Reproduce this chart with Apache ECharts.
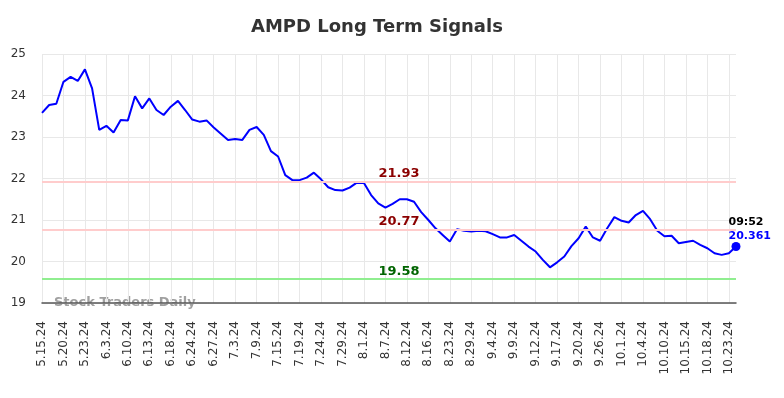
<!DOCTYPE html>
<html>
<head>
<meta charset="utf-8">
<title>AMPD Long Term Signals</title>
<script src="https://cdn.jsdelivr.net/npm/echarts@6/dist/echarts.min.js"></script>
<style>
  html, body { margin: 0; padding: 0; background: #fff; }
  #chart { width: 784px; height: 398px; }
</style>
</head>
<body>
<div id="chart"></div>
<script>
// trading days shown on the x axis (every third one gets a label)
const dates = [
  '5.15.24', '5.16.24', '5.17.24', '5.20.24', '5.21.24', '5.22.24', '5.23.24', '5.24.24', '5.28.24',
  '6.3.24', '6.4.24', '6.6.24', '6.10.24', '6.11.24', '6.12.24', '6.13.24', '6.14.24', '6.17.24',
  '6.18.24', '6.20.24', '6.21.24', '6.24.24', '6.25.24', '6.26.24', '6.27.24', '6.28.24', '7.1.24',
  '7.3.24', '7.5.24', '7.8.24', '7.9.24', '7.10.24', '7.12.24', '7.15.24', '7.16.24', '7.17.24',
  '7.19.24', '7.22.24', '7.23.24', '7.24.24', '7.25.24', '7.26.24', '7.29.24', '7.30.24', '7.31.24',
  '8.1.24', '8.2.24', '8.6.24', '8.7.24', '8.8.24', '8.9.24', '8.12.24', '8.13.24', '8.15.24',
  '8.16.24', '8.19.24', '8.21.24', '8.23.24', '8.26.24', '8.28.24', '8.29.24', '8.30.24', '9.3.24',
  '9.4.24', '9.5.24', '9.6.24', '9.9.24', '9.10.24', '9.11.24', '9.12.24', '9.13.24', '9.16.24',
  '9.17.24', '9.18.24', '9.19.24', '9.20.24', '9.23.24', '9.25.24', '9.26.24', '9.27.24', '9.30.24',
  '10.1.24', '10.2.24', '10.3.24', '10.4.24', '10.7.24', '10.9.24', '10.10.24', '10.11.24', '10.14.24',
  '10.15.24', '10.16.24', '10.17.24', '10.18.24', '10.21.24', '10.22.24', '10.23.24', '10.24.24'
]
const prices = [
  23.58, 23.77, 23.80, 24.33, 24.45, 24.35, 24.63, 24.17, 23.17,
  23.27, 23.11, 23.41, 23.40, 23.98, 23.69, 23.93, 23.65, 23.53,
  23.73, 23.87, 23.65, 23.42, 23.37, 23.40, 23.23, 23.08, 22.93,
  22.95, 22.93, 23.17, 23.24, 23.05, 22.66, 22.53, 22.08, 21.96,
  21.96, 22.02, 22.14, 21.98, 21.79, 21.72, 21.71, 21.78, 21.90,
  21.89, 21.60, 21.40, 21.30, 21.39, 21.50, 21.50, 21.44, 21.19,
  21.00, 20.80, 20.64, 20.48, 20.78, 20.74, 20.72, 20.74, 20.73,
  20.66, 20.58, 20.58, 20.64, 20.50, 20.36, 20.24, 20.04, 19.86,
  19.98, 20.12, 20.37, 20.56, 20.84, 20.58, 20.50, 20.80, 21.07,
  20.98, 20.94, 21.12, 21.22, 21.02, 20.74, 20.61, 20.62, 20.44,
  20.47, 20.50, 20.40, 20.32, 20.20, 20.16, 20.20, 20.361
]
const signalLevels = [21.93, 20.77, 19.58]
const signalColors = ['#ffcccc', '#ffcccc', '#90ee90']
const signalLabelColors = ['#8b0000', '#8b0000', '#006400']
const yTicks = [19, 25, 1]
const lastTime = '09:52'

const font = 'DejaVu Sans'
const myChart = echarts.init(document.getElementById('chart'))

const lastIdx = prices.length - 1
const seriesData = prices.map((v, i) => {
  if (i !== lastIdx) return v
  return {
    value: v,
    symbol: 'circle',
    symbolSize: 9,
    label: {
      show: true,
      position: [-3, -27],
      align: 'left',
      verticalAlign: 'top',
      formatter: '{t|' + lastTime + '}\n{v|' + v + '}',
      rich: {
        t: { color: '#000', fontWeight: 'bold', fontSize: 11, fontFamily: font, lineHeight: 14 },
        v: { color: '#0000ff', fontWeight: 'bold', fontSize: 11, fontFamily: font, lineHeight: 14 }
      }
    }
  }
})

const option = {
  animation: false,
  title: {
    text: 'AMPD Long Term Signals',
    left: 246,
    top: 13,
    textStyle: { fontFamily: font, fontSize: 18, fontWeight: 'bold', color: '#333' }
  },
  graphic: [
    {
      type: 'text',
      left: 54,
      top: 296,
      style: { text: 'Stock Traders Daily', fontFamily: font, fontSize: 13, fontWeight: 'bold', fill: '#a0a0a0' }
    }
  ],
  grid: { left: 42, right: 48, top: 54, bottom: 95 },
  xAxis: {
    type: 'category',
    data: dates,
    boundaryGap: false,
    axisLine: { lineStyle: { color: '#555', width: 1.5 } },
    axisTick: { show: false },
    axisLabel: {
      interval: 2,
      rotate: 90,
      margin: 18,
      color: '#333',
      fontFamily: font,
      fontSize: 12
    },
    splitLine: { show: true, interval: 2, lineStyle: { color: '#e8e8e8', width: 1 } }
  },
  yAxis: {
    type: 'value',
    min: yTicks[0],
    max: yTicks[1],
    interval: yTicks[2],
    axisLine: { show: false },
    axisTick: { show: false },
    axisLabel: { color: '#333', fontFamily: font, fontSize: 12, margin: 16 },
    splitLine: { lineStyle: { color: '#e8e8e8', width: 1 } }
  },
  series: [
    {
      type: 'line',
      data: seriesData,
      symbol: 'none',
      showAllSymbol: true,
      itemStyle: { color: '#0000ff' },
      lineStyle: { color: '#0000ff', width: 2 },
      markLine: {
        silent: true,
        symbol: 'none',
        data: signalLevels.map((lv, i) => ({
          yAxis: lv,
          lineStyle: { color: signalColors[i], width: 2, type: 'solid' },
          label: {
            show: true,
            position: 'insideMiddleTop',
            distance: 1,
            offset: [10, 0],
            formatter: String(lv.toFixed(2)),
            color: signalLabelColors[i],
            fontFamily: font,
            fontSize: 13,
            fontWeight: 'bold'
          }
        }))
      }
    }
  ]
}
option && myChart.setOption(option)
</script>
</body>
</html>
